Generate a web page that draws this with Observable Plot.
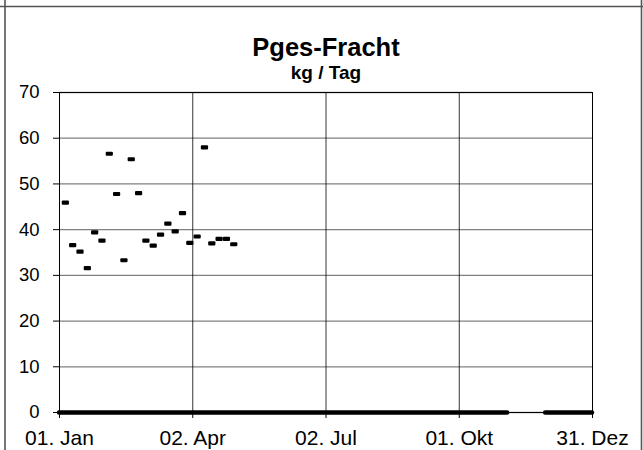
<!DOCTYPE html>
<html>
<head>
<meta charset="utf-8">
<script src="https://cdn.jsdelivr.net/npm/d3@7"></script>
<script src="https://cdn.jsdelivr.net/npm/@observablehq/plot@0.6"></script>
<style>
  html, body { margin: 0; padding: 0; background: #fff; }
  #chart svg { display: block; }
</style>
</head>
<body>
<div id="chart"></div>
<script>
// ---- data ----
const title = "Pges-Fracht";
const subtitle = "kg / Tag";

const sampleDates = [
  "2023-01-05", "2023-01-10", "2023-01-15", "2023-01-20", "2023-01-25", "2023-01-30",
  "2023-02-04", "2023-02-09", "2023-02-14", "2023-02-19", "2023-02-24", "2023-03-01",
  "2023-03-06", "2023-03-11", "2023-03-16", "2023-03-21", "2023-03-26", "2023-03-31",
  "2023-04-05", "2023-04-10", "2023-04-15", "2023-04-20", "2023-04-25", "2023-04-30"
];
const sampleValues = [
  45.9, 36.6, 35.2, 31.6, 39.4, 37.6,
  56.6, 47.8, 33.3, 55.4, 48.0, 37.6,
  36.5, 38.9, 41.3, 39.6, 43.6, 37.1,
  38.5, 58.0, 37.0, 38.0, 38.0, 36.8
];

// periods with daily value 0
const zeroFrom = ["2023-01-01", "2023-11-29"];
const zeroTo   = ["2023-11-03", "2023-12-31"];

const xTickDates  = ["2023-01-01", "2023-04-02", "2023-07-02", "2023-10-01", "2023-12-31"];
const xTickLabels = ["01. Jan", "02. Apr", "02. Jul", "01. Okt", "31. Dez"];
const yTicks = [0, 10, 20, 30, 40, 50, 60, 70];

// ---- build ----
const parse = d3.utcParse("%Y-%m-%d");
const points = sampleDates.map((d, i) => ({date: parse(d), value: sampleValues[i]}));
const zeros = zeroFrom.map((d, i) => ({from: parse(d), to: parse(zeroTo[i])}));
const xTicks = xTickDates.map(parse);
const labelOf = new Map(xTicks.map((d, i) => [+d, xTickLabels[i]]));

const dash = {
  draw(context) {
    const w = 3.6, h = 2.1, r = 1;
    context.moveTo(-w + r, -h);
    context.lineTo(w - r, -h);
    context.arcTo(w, -h, w, -h + r, r);
    context.lineTo(w, h - r);
    context.arcTo(w, h, w - r, h, r);
    context.lineTo(-w + r, h);
    context.arcTo(-w, h, -w, h - r, r);
    context.lineTo(-w, -h + r);
    context.arcTo(-w, -h, -w + r, -h, r);
    context.closePath();
  }
};

const font = "'Liberation Sans', Arial, sans-serif";

const plot = Plot.plot({
  width: 643,
  height: 450,
  marginLeft: 59,
  marginRight: 51,
  marginTop: 92,
  marginBottom: 38,
  style: {fontFamily: font, fontSize: "19px", color: "black", background: "white"},
  x: {type: "utc", domain: [parse("2023-01-01"), parse("2023-12-31")]},
  y: {domain: [0, 70]},
  marks: [
    Plot.gridY(yTicks, {stroke: "#808080", strokeOpacity: 1, strokeWidth: 1.3}),
    Plot.gridX(xTicks, {stroke: "#000", strokeOpacity: 1, strokeWidth: 0.8}),
    Plot.frame({stroke: "#000", strokeWidth: 1}),
    Plot.axisY(yTicks, {tickSize: 6, tickPadding: 14, fontSize: 18.5, label: null, stroke: "#000"}),
    Plot.axisX(xTicks, {tickSize: 6, tickPadding: 12, fontSize: 21, label: null,
      tickFormat: d => labelOf.get(+d), stroke: "#000"}),
    Plot.ruleY(zeros, {y: 0, x1: "from", x2: "to", stroke: "#000", strokeWidth: 4.5, strokeLinecap: "round"}),
    Plot.dot(points, {x: "date", y: "value", symbol: dash, fill: "#000", stroke: null, r: 4})
  ]
});

document.getElementById("chart").appendChild(plot);

const svg = d3.select(plot);
// titles
svg.append("text").attr("x", 326).attr("y", 56).attr("text-anchor", "middle")
  .attr("font-family", font).attr("font-weight", "bold").attr("font-size", 25.5).attr("fill", "#000")
  .text(title);
svg.append("text").attr("x", 326).attr("y", 79).attr("text-anchor", "middle")
  .attr("font-family", font).attr("font-weight", "bold").attr("font-size", 19).attr("fill", "#000")
  .text(subtitle);
// outer chart-area border
const frame = svg.append("g").attr("stroke", "#555").attr("stroke-width", 1.6).attr("fill", "none");
frame.append("line").attr("x1", 0).attr("x2", 643).attr("y1", 6.5).attr("y2", 6.5);
frame.append("line").attr("x1", 5).attr("x2", 5).attr("y1", 0).attr("y2", 450);
frame.append("line").attr("x1", 641.5).attr("x2", 641.5).attr("y1", 0).attr("y2", 450);
</script>
</body>
</html>
